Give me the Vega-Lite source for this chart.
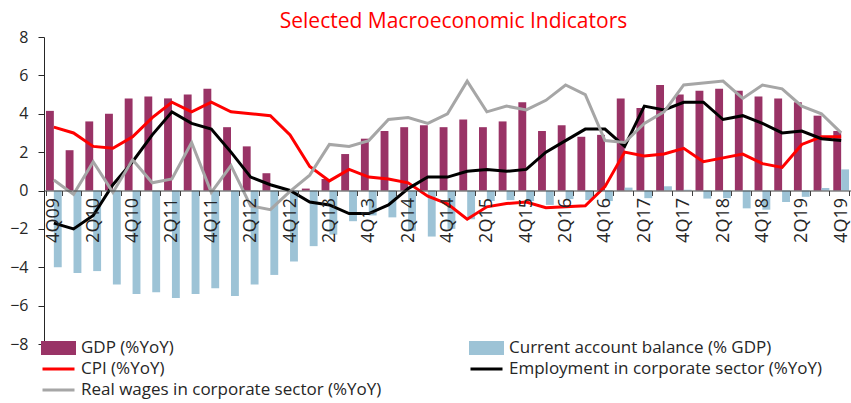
{
  "$schema": "https://vega.github.io/schema/vega-lite/v6.json",
  "width": 807,
  "height": 307,
  "autosize": {"type": "none"},
  "padding": {"left": 44, "top": 37, "right": 0, "bottom": 59},
  "background": "white",
  "config": {"view": {"stroke": null}, "font": "Open Sans"},
  "title": {"text": "Selected Macroeconomic Indicators", "color": "#FF0000", "fontSize": 21, "font": "Open Sans", "fontWeight": "normal", "anchor": "middle", "frame": "group", "offset": -20, "baseline": "alphabetic", "dx": 6},
  "data": {"values": [
    {"q": "4Q09", "gdp": 4.15, "ca": -4.0, "cpi": 3.3, "emp": -1.7, "wage": 0.55},
    {"q": "1Q10", "gdp": 2.1, "ca": -4.3, "cpi": 3.0, "emp": -2.0, "wage": -0.2},
    {"q": "2Q10", "gdp": 3.6, "ca": -4.2, "cpi": 2.3, "emp": -1.3, "wage": 1.5},
    {"q": "3Q10", "gdp": 4.0, "ca": -4.9, "cpi": 2.2, "emp": 0.3, "wage": -0.1},
    {"q": "4Q10", "gdp": 4.8, "ca": -5.4, "cpi": 2.8, "emp": 1.5, "wage": 1.6},
    {"q": "1Q11", "gdp": 4.9, "ca": -5.3, "cpi": 3.8, "emp": 2.9, "wage": 0.4},
    {"q": "2Q11", "gdp": 4.8, "ca": -5.6, "cpi": 4.6, "emp": 4.1, "wage": 0.6},
    {"q": "3Q11", "gdp": 5.0, "ca": -5.4, "cpi": 4.1, "emp": 3.5, "wage": 2.5},
    {"q": "4Q11", "gdp": 5.3, "ca": -5.1, "cpi": 4.6, "emp": 3.2, "wage": -0.1},
    {"q": "1Q12", "gdp": 3.3, "ca": -5.5, "cpi": 4.1, "emp": 2.0, "wage": 1.3},
    {"q": "2Q12", "gdp": 2.3, "ca": -4.9, "cpi": 4.0, "emp": 0.7, "wage": -0.8},
    {"q": "3Q12", "gdp": 0.9, "ca": -4.4, "cpi": 3.9, "emp": 0.3, "wage": -1.0},
    {"q": "4Q12", "gdp": 0.0, "ca": -3.7, "cpi": 2.9, "emp": 0.0, "wage": -0.05},
    {"q": "1Q13", "gdp": 0.1, "ca": -2.9, "cpi": 1.25, "emp": -0.6, "wage": 0.8},
    {"q": "2Q13", "gdp": 0.6, "ca": -2.3, "cpi": 0.5, "emp": -0.75, "wage": 2.4},
    {"q": "3Q13", "gdp": 1.9, "ca": -1.6, "cpi": 1.1, "emp": -1.2, "wage": 2.3},
    {"q": "4Q13", "gdp": 2.7, "ca": -1.3, "cpi": 0.7, "emp": -1.2, "wage": 2.6},
    {"q": "1Q14", "gdp": 3.1, "ca": -1.4, "cpi": 0.6, "emp": -0.75, "wage": 3.7},
    {"q": "2Q14", "gdp": 3.3, "ca": -2.1, "cpi": 0.4, "emp": 0.1, "wage": 3.8},
    {"q": "3Q14", "gdp": 3.4, "ca": -2.4, "cpi": -0.3, "emp": 0.7, "wage": 3.5},
    {"q": "4Q14", "gdp": 3.3, "ca": -2.0, "cpi": -0.7, "emp": 0.7, "wage": 4.0},
    {"q": "1Q15", "gdp": 3.7, "ca": -1.5, "cpi": -1.5, "emp": 1.0, "wage": 5.7},
    {"q": "2Q15", "gdp": 3.3, "ca": -0.55, "cpi": -0.85, "emp": 1.1, "wage": 4.1},
    {"q": "3Q15", "gdp": 3.6, "ca": -0.5, "cpi": -0.68, "emp": 1.0, "wage": 4.4},
    {"q": "4Q15", "gdp": 4.6, "ca": -0.55, "cpi": -0.6, "emp": 1.1, "wage": 4.2},
    {"q": "1Q16", "gdp": 3.1, "ca": -0.75, "cpi": -0.9, "emp": 2.0, "wage": 4.7},
    {"q": "2Q16", "gdp": 3.4, "ca": -0.45, "cpi": -0.85, "emp": 2.6, "wage": 5.5},
    {"q": "3Q16", "gdp": 2.8, "ca": -0.5, "cpi": -0.8, "emp": 3.2, "wage": 5.0},
    {"q": "4Q16", "gdp": 2.9, "ca": -0.55, "cpi": 0.2, "emp": 3.2, "wage": 2.6},
    {"q": "1Q17", "gdp": 4.8, "ca": 0.15, "cpi": 2.0, "emp": 2.3, "wage": 2.5},
    {"q": "2Q17", "gdp": 4.3, "ca": -0.4, "cpi": 1.8, "emp": 4.4, "wage": 3.5},
    {"q": "3Q17", "gdp": 5.5, "ca": 0.22, "cpi": 1.9, "emp": 4.2, "wage": 4.1},
    {"q": "4Q17", "gdp": 5.0, "ca": 0.04, "cpi": 2.2, "emp": 4.6, "wage": 5.5},
    {"q": "1Q18", "gdp": 5.2, "ca": -0.42, "cpi": 1.5, "emp": 4.6, "wage": 5.6},
    {"q": "2Q18", "gdp": 5.3, "ca": -0.4, "cpi": 1.7, "emp": 3.7, "wage": 5.7},
    {"q": "3Q18", "gdp": 5.2, "ca": -0.93, "cpi": 1.9, "emp": 3.9, "wage": 4.8},
    {"q": "4Q18", "gdp": 4.9, "ca": -1.0, "cpi": 1.4, "emp": 3.5, "wage": 5.5},
    {"q": "1Q19", "gdp": 4.8, "ca": -0.6, "cpi": 1.2, "emp": 3.0, "wage": 5.3},
    {"q": "2Q19", "gdp": 4.6, "ca": -0.33, "cpi": 2.4, "emp": 3.1, "wage": 4.4},
    {"q": "3Q19", "gdp": 3.9, "ca": 0.13, "cpi": 2.8, "emp": 2.7, "wage": 4.0},
    {"q": "4Q19", "gdp": 3.1, "ca": 1.1, "cpi": 2.8, "emp": 2.6, "wage": 3.0}
  ]},
  "transform": [{"fold": ["gdp", "ca", "cpi", "emp", "wage"], "as": ["series", "value"]}],
  "encoding": {
    "x": {
      "field": "q", "type": "nominal", "sort": null,
      "scale": {"paddingInner": 0.2, "paddingOuter": 0.1},
      "axis": {
        "title": null, "orient": "bottom", "offset": -153.5,
        "labelAngle": -90, "labelAlign": "right", "labelBaseline": "middle", "labelDy": 3,
        "labelExpr": "(substring(datum.label,0,1) === '2' || substring(datum.label,0,1) === '4') ? datum.label : ''",
        "labelFont": "Open Sans", "labelFontSize": 18, "labelColor": "#262626",
        "labelPadding": 2, "labelOverlap": false, "labelBound": false,
        "tickBand": "extent", "tickSize": 5, "tickColor": "#404040",
        "domainColor": "#404040", "zindex": 1
      }
    },
    "y": {
      "field": "value", "type": "quantitative",
      "scale": {"domain": [-8, 8], "nice": false, "zero": false},
      "axis": {
        "title": null, "values": [-8, -6, -4, -2, 0, 2, 4, 6, 8], "grid": false,
        "labelFont": "Open Sans", "labelFontSize": 16, "labelColor": "#262626",
        "tickSize": 6, "labelPadding": 10, "domainColor": "#262626", "tickColor": "#262626"
      }
    }
  },
  "layer": [
    {
      "transform": [{"filter": "datum.series === 'gdp' || datum.series === 'ca'"}],
      "mark": {"type": "bar"},
      "encoding": {
        "xOffset": {"field": "series", "type": "nominal", "sort": ["gdp", "ca"], "scale": {"paddingInner": 0, "paddingOuter": 0}},
        "color": {
          "field": "series", "type": "nominal",
          "scale": {"domain": ["gdp", "ca", "cpi", "emp", "wage"], "range": ["#993366", "#9DC3D6", "#FF0000", "#000000", "#A6A6A6"]},
          "legend": {
            "title": null, "orient": "none", "legendX": -3, "legendY": 303, "columns": 2, "direction": "horizontal",
            "columnPadding": 87, "rowPadding": 4, "clipHeight": 16, "labelFont": "Open Sans", "labelFontSize": 17,
            "labelColor": "#262626", "labelOffset": 5, "symbolSize": 1024, "labelLimit": 400,
            "labelExpr": "datum.label === 'gdp' ? 'GDP (%YoY)' : datum.label === 'ca' ? 'Current account balance (% GDP)' : datum.label === 'cpi' ? 'CPI (%YoY)' : datum.label === 'emp' ? 'Employment in corporate sector (%YoY)' : 'Real wages in corporate sector (%YoY)'",
            "encode": {"symbols": {"update": {
              "shape": {"signal": "(datum.value === 'gdp' || datum.value === 'ca') ? 'M-1,-0.34H1V0.34H-1Z' : 'M-1,0H1'"},
              "fill": {"signal": "(datum.value === 'gdp' || datum.value === 'ca') ? scale('color', datum.value) : 'transparent'"},
              "stroke": {"signal": "(datum.value === 'gdp' || datum.value === 'ca') ? 'transparent' : scale('color', datum.value)"},
              "strokeWidth": {"value": 3},
              "opacity": {"value": 1}
            }}}
          }
        }
      }
    },
    {
      "transform": [{"filter": "datum.series !== 'gdp' && datum.series !== 'ca'"}],
      "mark": {"type": "line", "strokeWidth": 3},
      "encoding": {
        "color": {"field": "series", "type": "nominal"}
      }
    }
  ]
}
